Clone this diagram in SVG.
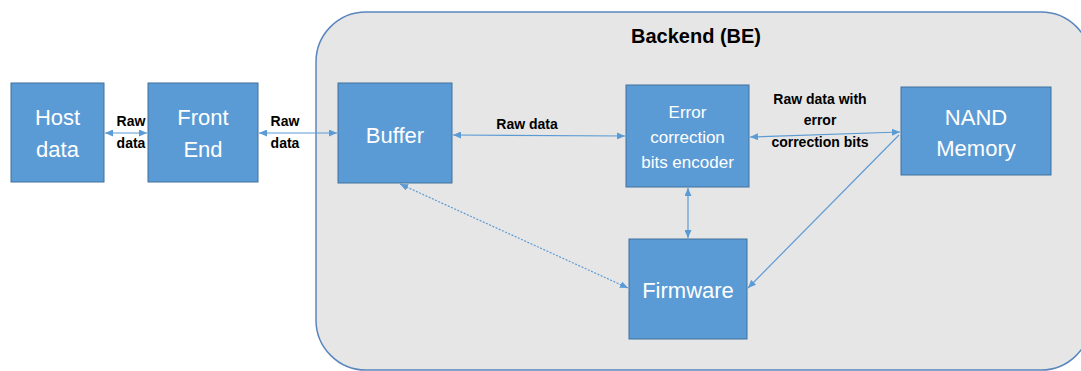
<svg xmlns="http://www.w3.org/2000/svg" width="1081" height="371" viewBox="0 0 1081 371">
  <defs>
    <marker id="arr" viewBox="0 0 8 7" refX="8" refY="3.5" markerWidth="8" markerHeight="7" markerUnits="userSpaceOnUse" orient="auto-start-reverse">
      <path d="M0,0 L8,3.5 L0,7 z" fill="#5B9BD5"/>
    </marker>
    <style>
      .box { fill: #5B9BD5; stroke: #41719C; stroke-width: 1; }
      .bt { fill: #FFFFFF; font-family: "Liberation Sans", Arial, sans-serif; font-size: 22px; text-anchor: middle; }
      .st { fill: #FFFFFF; font-family: "Liberation Sans", Arial, sans-serif; font-size: 17px; text-anchor: middle; }
      .lbl { fill: #000000; font-family: "Liberation Sans", Arial, sans-serif; font-size: 14px; font-weight: bold; text-anchor: middle; }
      .conn { stroke: #5B9BD5; stroke-width: 1.2; fill: none; }
    </style>
  </defs>
  <rect width="1081" height="371" fill="#FFFFFF"/>

  <g id="backend">
    <rect x="316" y="12" width="775" height="358" rx="50" ry="50" fill="#E7E6E6" stroke="#5A86BD" stroke-width="1.5"/>
    <text x="696" y="43" font-family="Liberation Sans, Arial, sans-serif" font-size="20" font-weight="bold" text-anchor="middle" fill="#000000">Backend (BE)</text>
  </g>

  <g id="connectors">
    <line class="conn" x1="105" y1="133" x2="147" y2="133" marker-start="url(#arr)" marker-end="url(#arr)"/>
    <line class="conn" x1="259" y1="133" x2="337" y2="133" marker-start="url(#arr)" marker-end="url(#arr)"/>
    <line class="conn" x1="453" y1="135" x2="625" y2="136" marker-start="url(#arr)" marker-end="url(#arr)"/>
    <line class="conn" x1="750" y1="137" x2="900" y2="132" marker-start="url(#arr)" marker-end="url(#arr)"/>
    <line class="conn" x1="688" y1="188" x2="688" y2="238" marker-start="url(#arr)" marker-end="url(#arr)"/>
    <line class="conn" x1="400" y1="184" x2="628" y2="288" stroke-dasharray="2 1.5" marker-start="url(#arr)" marker-end="url(#arr)"/>
    <line class="conn" x1="899" y1="135" x2="748" y2="288" marker-end="url(#arr)"/>
    <text class="lbl" x="131" y="126">Raw</text>
    <text class="lbl" x="131" y="148">data</text>
    <text class="lbl" x="285" y="126">Raw</text>
    <text class="lbl" x="285" y="148">data</text>
    <text class="lbl" x="527" y="129">Raw data</text>
    <text class="lbl" x="820" y="104">Raw data with</text>
    <text class="lbl" x="820" y="125">error</text>
    <text class="lbl" x="820" y="147">correction bits</text>
  </g>

  <g id="host">
    <rect class="box" x="11" y="83" width="93" height="99"/>
    <text class="bt" x="57.5" y="125">Host</text>
    <text class="bt" x="57.5" y="157">data</text>
  </g>

  <g id="frontend">
    <rect class="box" x="148" y="83" width="110" height="99"/>
    <text class="bt" x="203" y="125">Front</text>
    <text class="bt" x="203" y="157">End</text>
  </g>

  <g id="buffer">
    <rect class="box" x="338" y="83" width="114" height="100"/>
    <text class="bt" x="395" y="143">Buffer</text>
  </g>

  <g id="ecc">
    <rect class="box" x="626" y="85" width="123" height="102"/>
    <text class="st" x="687.5" y="118">Error</text>
    <text class="st" x="687.5" y="143">correction</text>
    <text class="st" x="687.5" y="168">bits encoder</text>
  </g>

  <g id="nand">
    <rect class="box" x="901" y="87" width="150" height="88"/>
    <text class="bt" x="976" y="125" font-size="23">NAND</text>
    <text class="bt" x="976" y="156" font-size="23">Memory</text>
  </g>

  <g id="firmware">
    <rect class="box" x="629" y="239" width="118" height="100"/>
    <text class="bt" x="688" y="298">Firmware</text>
  </g>
</svg>
